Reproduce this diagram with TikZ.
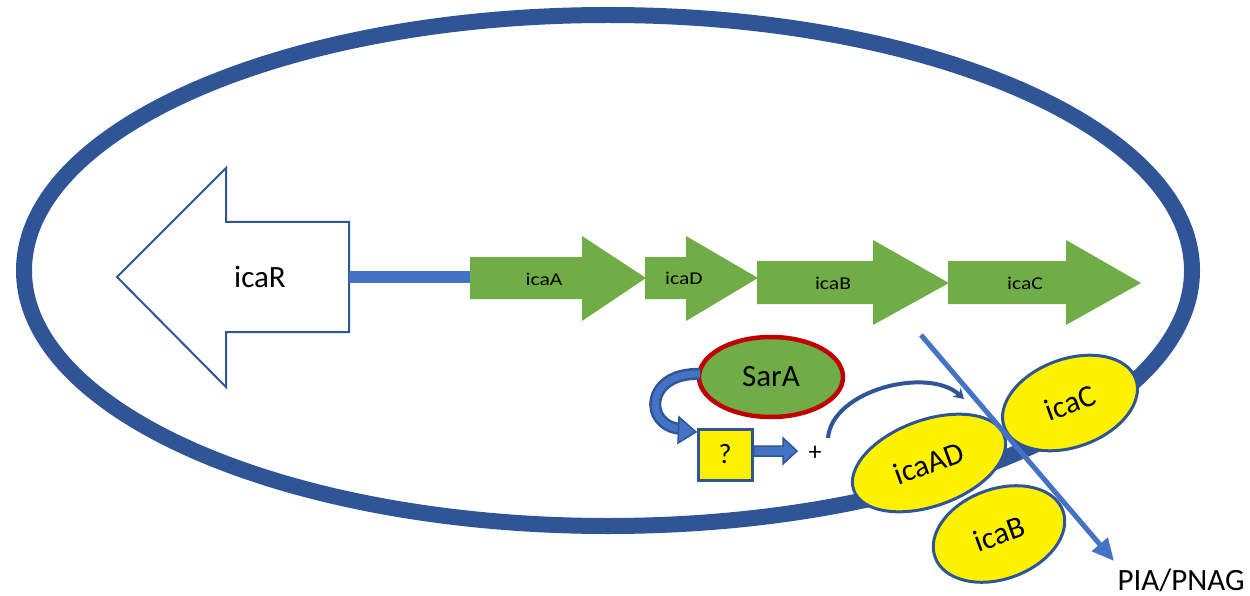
\documentclass[tikz,border=0pt]{standalone}
\usepackage{fontspec}
\setmainfont{Carlito}
\usetikzlibrary{arrows.meta,shapes.geometric}
\definecolor{cellblue}{HTML}{2F5597}
\definecolor{lightblue}{HTML}{4472C4}
\definecolor{genegreen}{HTML}{70AD47}
\definecolor{darkred}{HTML}{C00000}
\begin{document}
\begin{tikzpicture}[x=1pt,y=-1pt,
  cellwall/.style={draw=cellblue,line width=16pt},
  bigarrow/.style={draw=cellblue,line width=2pt,fill=white,line join=miter},
  gene/.style={fill=genegreen},
  genelabel/.style={font=\fontsize{18}{22}\selectfont,xscale=1.2,inner sep=0pt},
  biglabel/.style={font=\fontsize{31}{36}\selectfont,inner sep=0pt},
  enzyme/.style={ellipse,draw=cellblue,line width=3pt,fill=yellow,rotate=20,inner sep=0pt,font=\fontsize{31}{36}\selectfont},
  blockarrow/.style={fill=lightblue,draw=cellblue,line width=1.5pt,line join=miter}
]
\useasboundingbox (0,0) rectangle (1250,596);
% cell
\draw[cellwall] (608,270.5) ellipse [x radius=584pt, y radius=255.5pt];
% icaR arrow
\draw[bigarrow] (117,277) -- (226,168) -- (226,222) -- (349,222) -- (349,332) -- (226,332) -- (226,387) -- cycle;
\node[biglabel] (icaR) at (260,277) {icaR};
\coordinate (icaRend) at (349,277);
% genes
\fill[gene] (470,257) -- (582,257) -- (582,236) -- (646,278) -- (582,321) -- (582,299) -- (470,299) -- cycle;
\fill[gene] (645,257) -- (686,257) -- (686,236) -- (758,278) -- (686,321) -- (686,299) -- (645,299) -- cycle;
\fill[gene] (757,261) -- (873,261) -- (873,240) -- (949,283) -- (873,325) -- (873,304) -- (757,304) -- cycle;
\fill[gene] (948,261) -- (1066,261) -- (1066,240) -- (1141,283) -- (1066,325) -- (1066,304) -- (948,304) -- cycle;
\coordinate (icaAstart) at (470,277);
\node[genelabel] (lA) at (544,279) {icaA};
\node[genelabel] (lD) at (684,278) {icaD};
\node[genelabel] (lB) at (833,283) {icaB};
\node[genelabel] (lC) at (1025,283) {icaC};
% linker
\draw[lightblue,line width=12pt] (icaRend) -- (icaAstart);
% SarA
\node[ellipse,draw=darkred,line width=4.5pt,fill=genegreen,minimum width=144pt,minimum height=80pt,inner sep=0pt,font=\fontsize{31}{36}\selectfont] (sarA) at (771,377) {SarA};
% question box
\node[draw=cellblue,line width=3pt,fill=yellow,minimum width=54pt,minimum height=51pt,inner sep=0pt,font=\fontsize{28}{32}\selectfont] (q) at (725,454.5) {?};
% curved block arrow SarA -> ?
\coordinate (sarAleft) at (700,374);
\coordinate (qtopleft) at (681,429);
\draw[cellblue,line width=12pt] (sarAleft) .. controls (645,372) and (643,426) .. (qtopleft);
\draw[lightblue,line width=7pt] (sarAleft) .. controls (645,372) and (643,426) .. (qtopleft);
\fill[blockarrow] (679,417) -- (696,432) -- (678,443) -- cycle;
% straight block arrow ? -> +
\node[font=\fontsize{26}{30}\selectfont,inner sep=0pt] (plus) at (815,453) {+};
\draw[blockarrow] (q.east |- 0,446) -- (783,446) -- (783,438) -- (797,451) -- (783,464) -- (783,456) -- (q.east |- 0,456) -- cycle;
% enzymes
\node[enzyme,minimum width=140pt,minimum height=88pt] (eC) at (1070,403) {icaC};
\node[enzyme,minimum width=160pt,minimum height=86pt] (eAD) at (929,463) {icaAD};
\node[enzyme,minimum width=136pt,minimum height=90pt] (eB) at (999,534) {icaB};
% thin curved arrow from + to membrane complex
\coordinate (cstart) at (828,438);
\coordinate (cend) at (964,399);
\draw[cellblue,line width=4pt,-{Stealth[length=10pt,width=12pt]}] (cstart) .. controls (832,390) and (928,366) .. (cend);
% export arrow
\node[font=\fontsize{31}{36}\selectfont,inner sep=0pt] (pia) at (1181,580) {PIA/PNAG};
\coordinate (exstart) at (921,335);
\coordinate (extip) at (1114,561);
\draw[lightblue,line width=5pt,-{Triangle[length=22pt,width=20pt]}] (exstart) -- (extip);
\end{tikzpicture}
\end{document}
